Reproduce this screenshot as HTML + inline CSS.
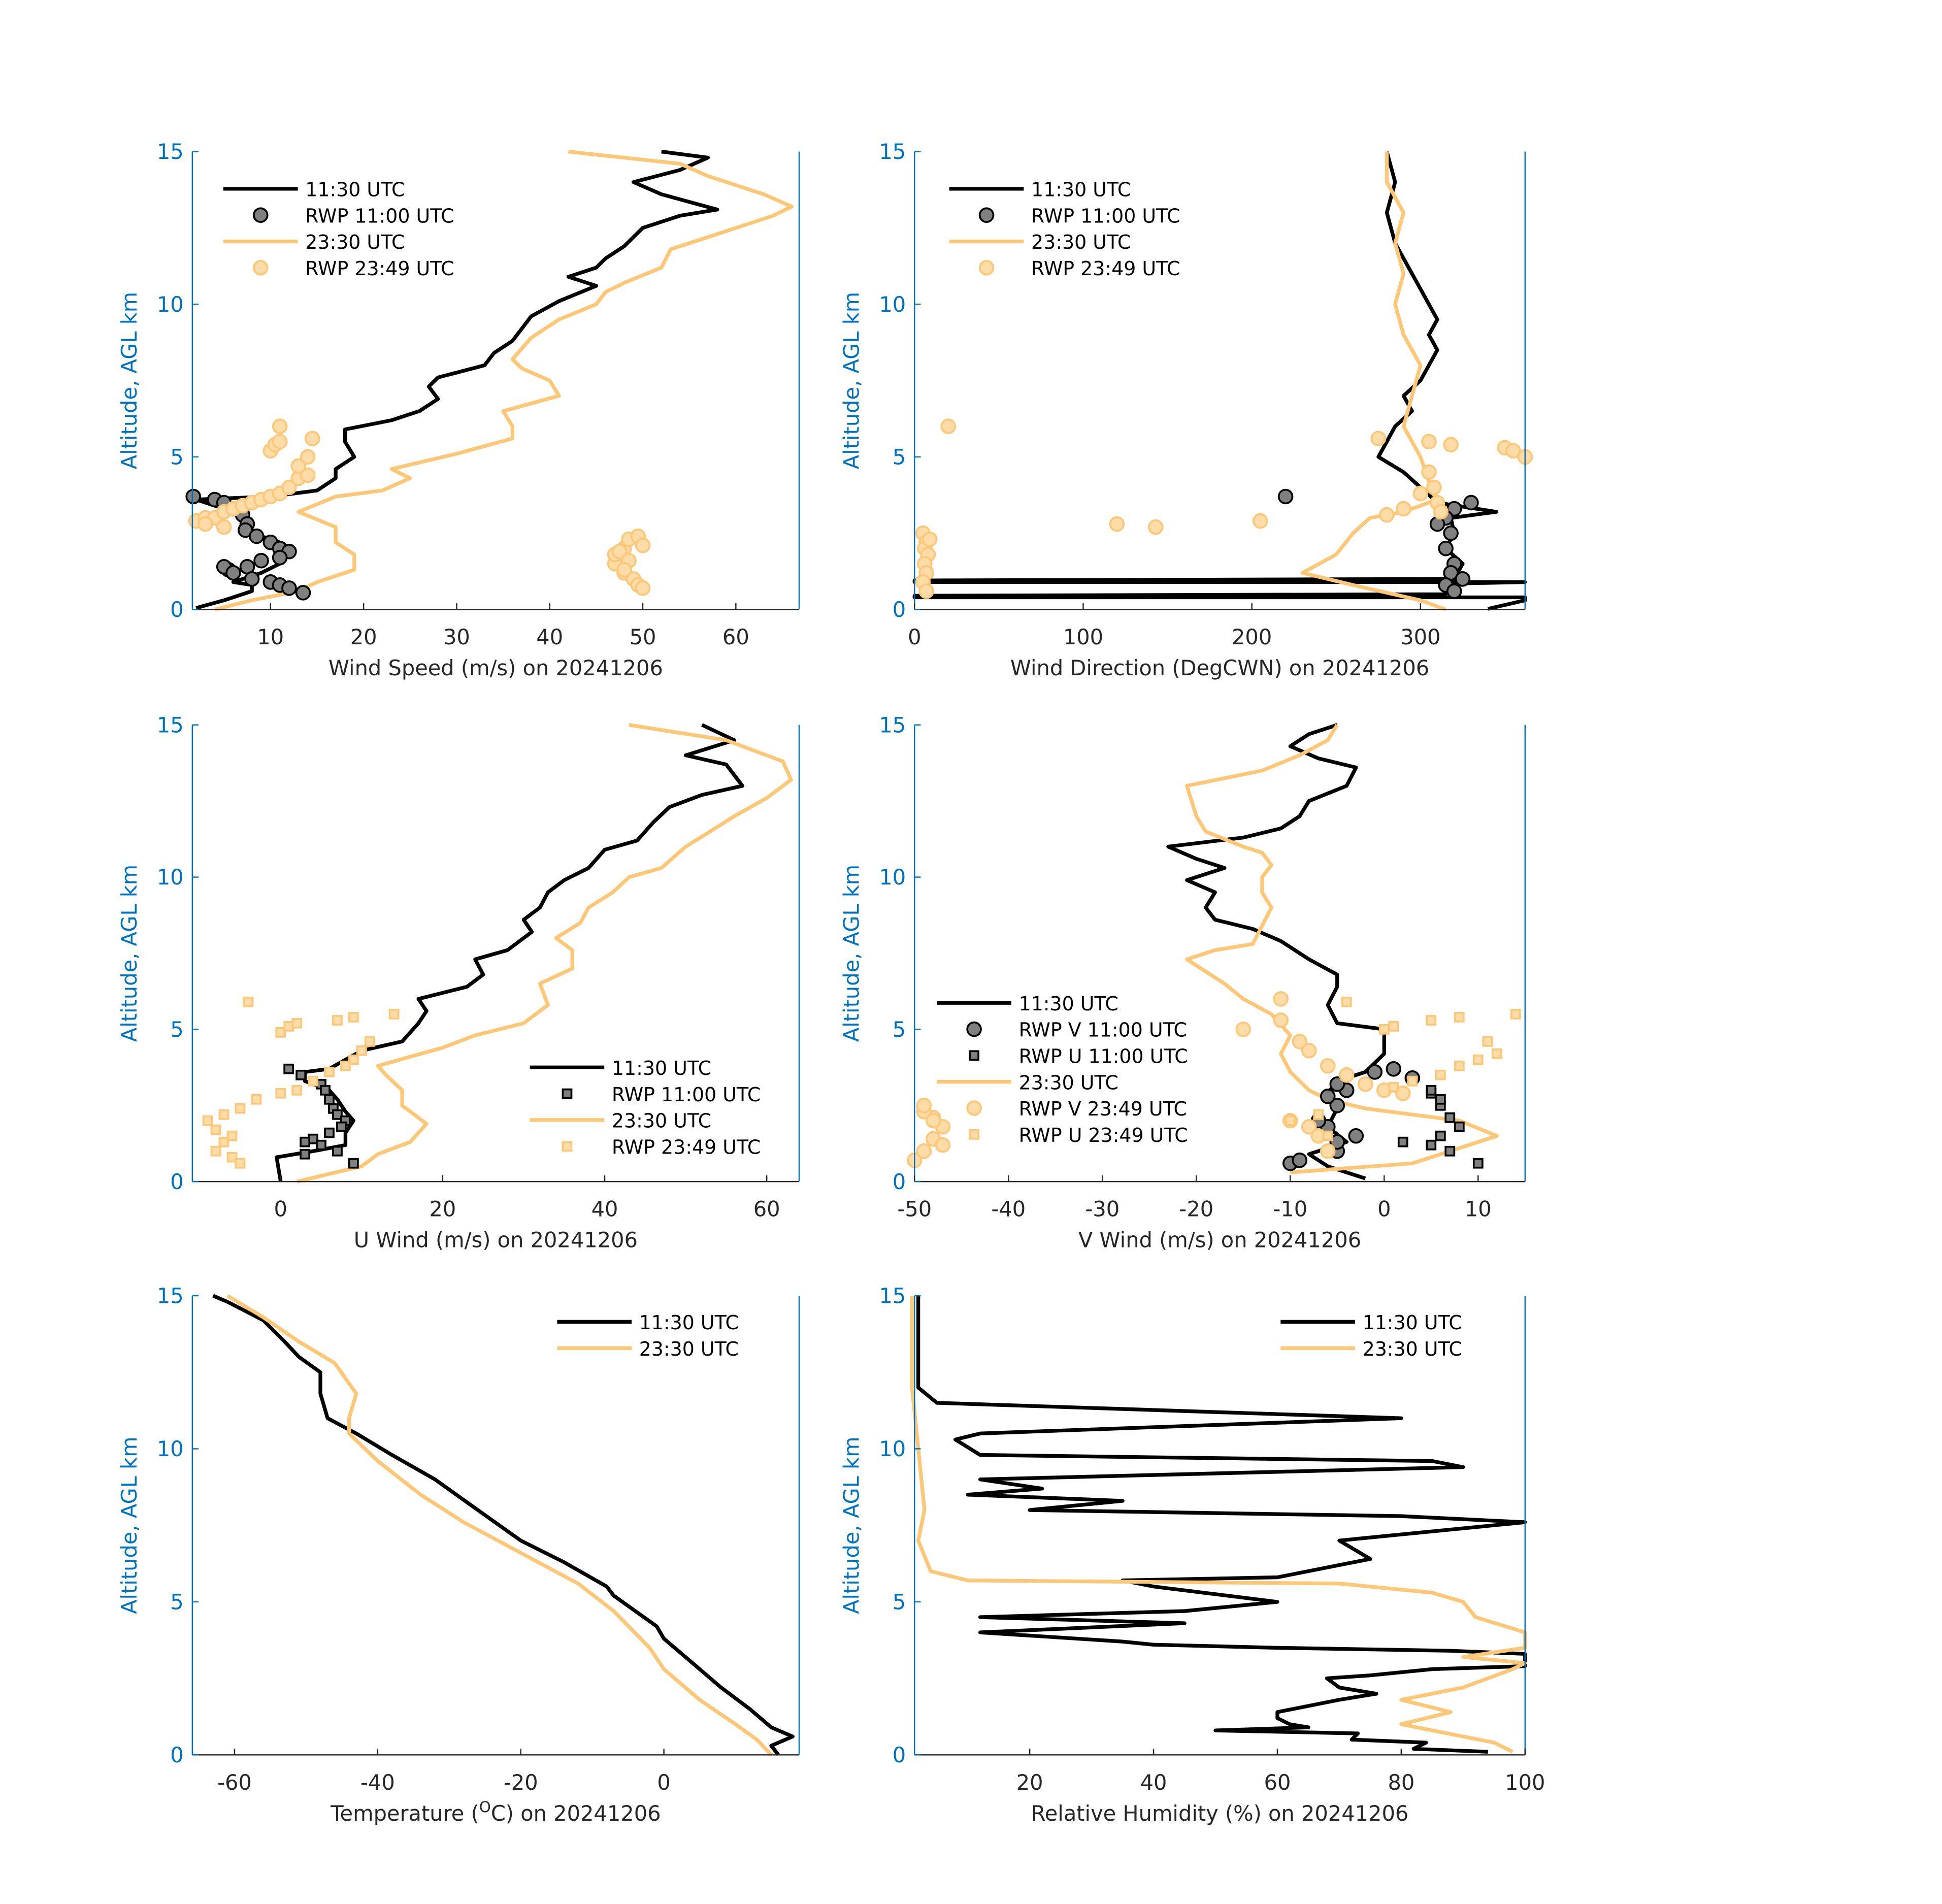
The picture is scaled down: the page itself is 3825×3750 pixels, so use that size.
<!DOCTYPE html>
<html><head><meta charset="utf-8"><style>html,body{margin:0;padding:0;background:#fff}svg{display:block}</style></head>
<body>
<svg id="fig" xmlns="http://www.w3.org/2000/svg" width="3825" height="3750" viewBox="0 0 1565 1534" font-family="'DejaVu Sans','Liberation Sans',sans-serif"></svg>
<script>
// ===== Data =====
const altWsB=[0.05,0.3,0.6,0.8,0.9,1.2,1.5,1.8,2.2,2.5,3.0,3.3,3.6,3.7,3.9,4.3,4.6,5.0,5.5,5.9,6.2,6.5,6.9,7.3,7.6,8.0,8.4,8.8,9.2,9.6,10.1,10.6,10.9,11.2,11.5,11.9,12.5,12.9,13.1,13.6,14.0,14.4,14.8,15];
const wsB=[2,5,8,8,6,9,11,12,11,8,7,5,2,10,15,17,17,19,18,18,23,26,28,27,28,33,34,36,37,38,41,45,42,45,46,48,50,54,58,52,49,54,57,52];
const altWsO=[0,0.3,0.6,0.9,1.3,1.8,2.2,2.7,3.2,3.7,3.9,4.3,4.6,5.1,5.6,6.0,6.5,7.0,7.5,7.9,8.2,8.9,9.5,10.0,10.4,10.7,11.2,11.8,12.2,12.9,13.2,13.6,14.2,14.6,15];
const wsO=[4,8,13,15,19,19,17,17,13,17,22,25,23,30,36,36,35,41,40,37,36,38,41,45,46,48,52,53,57,64,66,63,57,54,42];
const rwpWsB=[1.7,4,5,6,7,7.5,7.3,8.5,10,11,12,11,9,7.5,5.5,5,6,8,10,11,12,13.5];
const rwpWsBAlt=[3.7,3.6,3.5,3.3,3.1,2.8,2.6,2.4,2.2,2.0,1.9,1.7,1.6,1.4,1.3,1.4,1.2,1.0,0.9,0.8,0.7,0.55];
const rwpWsO=[2,3,4,5,6,7,8,9,10,11,12,13,14,13,14,14.5,10,10.5,11,11,3,5,47,47,48,48.5,49.5,50,48,49,49.5,50,47.5,48.5,48];
const rwpWsOAlt=[2.9,3.0,3.0,3.2,3.3,3.4,3.5,3.6,3.7,3.8,4.0,4.3,4.4,4.7,5.0,5.6,5.2,5.4,5.5,6.0,2.8,2.7,1.5,1.8,2.0,2.3,2.4,2.1,1.2,1.0,0.8,0.7,1.9,1.6,1.3];

const altWdB=[0.02,0.3,0.4,0.4,0.45,0.5,0.85,0.9,0.9,0.95,1.0,1.5,2.0,2.5,3.0,3.2,3.5,4.0,4.5,5.0,5.5,6.0,6.5,7.0,7.5,8.0,8.5,9,9.5,10,10.5,11,11.5,12,13,14,15];
const wdB=[340,362,362,0,0,315,320,362,0,0,320,325,315,320,318,345,310,300,290,275,280,285,295,290,300,305,310,305,310,305,300,295,290,285,280,285,280];
const altWdO=[0,0.3,0.8,1.2,1.8,2.5,3.0,3.2,3.6,4.2,5,6,7,8,9,10,11,12,13,14,15];
const wdO=[315,300,260,230,250,260,270,290,310,305,300,290,295,300,290,285,290,285,290,280,280];
const rwpWdB=[220,330,320,315,318,315,320,318,315,320,310,325];
const rwpWdBAlt=[3.7,3.5,3.3,3.0,2.5,2.0,1.5,1.2,0.8,0.6,2.8,1.0];
const rwpWdO=[20,275,305,318,350,355,362,305,308,300,290,280,205,120,143,310,5,7,6,8,6,7,5,7,9,312];
const rwpWdOAlt=[6.0,5.6,5.5,5.4,5.3,5.2,5.0,4.5,4.0,3.8,3.3,3.1,2.9,2.8,2.7,3.5,2.5,2.2,2.0,1.8,1.5,1.2,0.9,0.6,2.3,3.2];

const altUB=[0,0.8,1.0,1.2,1.6,2.0,2.3,2.7,3.0,3.3,3.6,3.7,4.3,4.6,5.2,5.6,6.0,6.4,6.8,7.3,7.6,8.2,8.6,9.0,9.5,9.9,10.3,10.9,11.2,11.8,12.3,12.7,13.0,13.7,14.0,14.5,15];
const uB=[0,-0.5,4,8,8,9,8,7,6,3,3,6,10,15,17,18,17,23,25,24,28,31,30,32,33,35,38,40,44,46,48,52,57,55,50,56,52];
const altUO=[0,0.5,0.9,1.3,1.9,2.5,3.0,3.5,3.8,4.1,4.4,4.8,5.2,5.8,6.5,7.0,7.6,8.0,8.5,9.0,9.5,10.0,10.3,11.0,11.5,12.0,12.6,13.2,13.8,14.5,15];
const uO=[2,10,12,16,18,15,15,13,12,16,20,24,30,33,32,36,36,34,37,38,41,43,47,50,53,56,60,63,62,55,43];
const rwpUB=[1,2.5,5,5.5,6,6.5,7,8,7.5,6,4,3,5,7,9,3];
const rwpUBAlt=[3.7,3.5,3.2,3.0,2.7,2.4,2.2,2.0,1.8,1.6,1.4,1.3,1.2,1.0,0.6,0.9];
const rwpUO=[-4,0,1,2,7,9,14,11,10,9,8,6,4,2,0,-3,-5,-7,-9,-8,-7,-8,-6,-5,-6];
const rwpUOAlt=[5.9,4.9,5.1,5.2,5.3,5.4,5.5,4.6,4.3,4.0,3.8,3.6,3.3,3.0,2.9,2.7,2.4,2.2,2.0,1.7,1.3,1.0,0.8,0.6,1.5];

const altVB=[0.1,0.5,0.9,1.3,1.8,2.4,2.9,3.3,3.6,4.2,5.0,5.2,5.8,6.4,6.8,7.3,7.9,8.3,8.6,9.0,9.5,9.9,10.3,10.6,11.0,11.3,11.6,12.0,12.5,13.0,13.6,13.9,14.3,14.7,15];
const vB=[-2,-6,-8,-4,-6,-5,-6,-5,-2,0,0,-5,-6,-5,-5,-8,-11,-14,-18,-19,-18,-21,-17,-20,-23,-15,-11,-9,-8,-4,-3,-7,-10,-8,-5];
const altVO=[0.3,0.6,1.2,1.5,2.0,2.4,2.7,3.0,3.6,4.2,4.8,5.5,6.0,6.5,6.9,7.3,7.6,7.8,8.4,9.0,9.5,10.0,10.4,10.8,11.0,11.5,12.0,13.0,13.5,14.0,14.5,15];
const vO=[-10,3,9,12,8,-2,-6,-8,-10,-11,-10,-12,-15,-17,-19,-21,-18,-14,-13,-12,-13,-13,-12,-13,-15,-19,-20,-21,-13,-9,-6,-5];
const rwpVB=[-10,-9,-5,-5,-3,-6,-7,-5,-6,-4,-5,-1,1,3];
const rwpVBAlt=[0.6,0.7,1.0,1.3,1.5,1.8,2.0,2.5,2.8,3.0,3.2,3.6,3.7,3.4];
const rwpVUB=[2,5,6,8,7,6,5,5,6,10,7];
const rwpVUBAlt=[1.3,1.2,1.5,1.8,2.1,2.5,2.9,3.0,2.7,0.6,1.0];
const rwpVO=[-50,-49,-48,-47,-48,-49,-48,-47,-49,-15,-11,-11,-9,-8,-6,-4,-2,0,2,-10,-8,-7,-6];
const rwpVOAlt=[0.7,1.0,1.4,1.8,2.1,2.3,2.0,1.2,2.5,5.0,6.0,5.3,4.6,4.3,3.8,3.5,3.2,3.0,2.9,2.0,1.8,1.5,1.0];
const rwpVUO=[-4,0,1,5,8,14,11,12,10,8,6,3,1,-10,-7,-6];
const rwpVUOAlt=[5.9,5.0,5.1,5.3,5.4,5.5,4.6,4.2,4.0,3.8,3.5,3.3,3.1,2.0,2.2,1.5];

const altTB=[0,0.3,0.6,0.9,1.5,2.2,3.0,3.8,4.2,5.2,5.5,6.3,7.0,8.0,9.0,9.8,10.5,11.0,11.8,12.5,13.0,13.5,14.2,14.8,15];
const tB=[16,15,18,15,12,8,4,0,-1,-7,-8,-14,-20,-26,-32,-38,-43,-47,-48,-48,-51,-53,-56,-61,-63];
const altTO=[0,0.5,1.0,1.8,2.8,3.5,4.7,5.6,6.6,7.6,8.5,9.6,10.5,11.0,11.8,12.8,13.5,14.3,15];
const tO=[15,13,10,5,0,-2,-7,-12,-20,-28,-34,-40,-44,-44,-43,-46,-51,-56,-61];

const altRhB=[0.1,0.2,0.4,0.5,0.7,0.8,0.9,1.0,1.2,1.4,1.8,2.0,2.2,2.5,2.6,2.8,2.9,3.3,3.4,3.5,3.6,3.7,4.0,4.3,4.5,4.7,5.0,5.5,5.7,5.8,6.4,7.0,7.3,7.6,7.8,8.0,8.3,8.5,8.7,9.0,9.4,9.6,9.8,10.3,10.5,11.0,11.5,12,15];
const rhB=[94,82,84,72,73,50,65,62,60,60,70,76,70,68,75,85,100,100,88,60,40,35,12,45,12,45,60,40,35,60,75,70,85,100,80,20,35,10,22,12,90,85,12,8,12,80,5,2,2];
const altRhO=[0.1,0.4,0.8,1.0,1.4,1.8,2.2,2.8,3.0,3.2,3.5,4.0,4.5,5.0,5.3,5.6,5.7,6.0,7,8,10,12,15];
const rhO=[98,95,85,80,88,80,90,98,100,90,100,100,92,90,85,70,10,4,2,3,2,1,1];

// ===== Drawing =====
const svg=document.getElementById('fig');
const NS='http://www.w3.org/2000/svg';
const BLUE='#0072BD', ORANGE='#FDC778', GREY='#808080';
function mk(tag,attrs,parent){const e=document.createElementNS(NS,tag);for(const k in attrs)e.setAttribute(k,attrs[k]);(parent||svg).appendChild(e);return e;}
function txt(s,x,y,attrs,parent){const t=mk('text',Object.assign({x:x,y:y},attrs),parent);t.textContent=s;return t;}

function panel(cfg){
  const g=mk('g',{});
  
  
  const L=cfg.x0,R=cfg.x1,T=cfg.y0,B=cfg.y1;
  const sx=v=>L+(v-cfg.xmin)/(cfg.xmax-cfg.xmin)*(R-L);
  const sy=v=>B-(v-0)/15*(B-T);
  // series
  cfg.lines.forEach(ln=>{
    const d=ln.v.map((v,i)=>(i?'L':'M')+sx(v).toFixed(1)+' '+sy(ln.a[i]).toFixed(1)).join(' ');
    const p=mk('path',{d:d,fill:'none',stroke:ln.c,'stroke-width':3,'stroke-linejoin':'round'},g);
    
    
  });
  cfg.pts.forEach(ps=>{
    ps.v.forEach((v,i)=>{
      const x=sx(v),y=sy(ps.a[i]);let m;
      if(ps.sq){m=mk('rect',{x:x-3.5,y:y-3.5,width:7,height:7,fill:ps.f,stroke:ps.s,'stroke-width':1.5},g);}
      else{m=mk('circle',{cx:x,cy:y,r:5.5,fill:ps.f,stroke:ps.s,'stroke-width':1.5},g);}
      
      
    });
  });
  // axes
  mk('line',{x1:L,y1:T,x2:L,y2:B,stroke:BLUE,'stroke-width':1},g);
  mk('line',{x1:R,y1:T,x2:R,y2:B,stroke:BLUE,'stroke-width':1},g);
  mk('line',{x1:L,y1:B,x2:R,y2:B,stroke:'#262626','stroke-width':1},g);
  [0,5,10,15].forEach(v=>{
    const y=sy(v);
    mk('line',{x1:L,y1:y,x2:L+5,y2:y,stroke:BLUE,'stroke-width':1},g);
    const t=txt(String(v),L-7,y+6,{'font-size':17,fill:BLUE,'text-anchor':'end'},g);
    
    
  });
  cfg.xt.forEach(v=>{
    const x=sx(v);
    mk('line',{x1:x,y1:B,x2:x,y2:B-5,stroke:'#262626','stroke-width':1},g);
    const t=txt(String(v),x,B+28,{'font-size':17,fill:'#262626','text-anchor':'middle'},g);
    
    
  });
  const yl=txt('Altitude, AGL km',0,0,{'font-size':17,fill:BLUE,'text-anchor':'middle',transform:`translate(${L-45},${(T+B)/2}) rotate(-90)`},g);
  
  
  const xl=txt('',(L+R)/2,B+53,{'font-size':17,fill:'#262626','text-anchor':'middle'},g);
  xl.innerHTML=cfg.xlabel;
  
  
  // legend
  cfg.leg.items.forEach((it,i)=>{
    const y=cfg.leg.y+i*21.2, lx=cfg.leg.x;
    const lg=mk('g',{},g);
    
    
    if(it.t==='l') mk('line',{x1:lx,y1:y,x2:lx+60,y2:y,stroke:it.c,'stroke-width':3},lg);
    else if(it.t==='c') mk('circle',{cx:lx+30,cy:y,r:5.5,fill:it.f,stroke:it.s,'stroke-width':1.5},lg);
    else mk('rect',{x:lx+26.5,y:y-3.5,width:7,height:7,fill:it.f,stroke:it.s,'stroke-width':1.5},lg);
    txt(it.label,lx+66,y+6,{'font-size':15.5,fill:'#000'},lg);
  });
}
const ptB={f:GREY,s:'#000'}, ptO={f:'#FEDCA8',s:ORANGE};
const L1={t:'l',c:'#000',label:'11:30 UTC'}, L2={t:'l',c:ORANGE,label:'23:30 UTC'};
panel({name:'wind-speed-panel',x0:155,x1:644,y0:122,y1:491,xmin:1.6,xmax:66.8,xt:[10,20,30,40,50,60],
  xlabel:'Wind Speed (m/s) on 20241206',
  lines:[{v:wsB,a:altWsB,c:'#000',n:'line-1130'},{v:wsO,a:altWsO,c:ORANGE,n:'line-2330'}],
  pts:[Object.assign({v:rwpWsB,a:rwpWsBAlt,n:'rwp-1100-point'},ptB),Object.assign({v:rwpWsO,a:rwpWsOAlt,n:'rwp-2349-point'},ptO)],
  leg:{x:180,y:152,items:[L1,Object.assign({t:'c',label:'RWP 11:00 UTC'},ptB),L2,Object.assign({t:'c',label:'RWP 23:49 UTC'},ptO)]}});
panel({name:'wind-direction-panel',x0:737,x1:1229,y0:122,y1:491,xmin:0,xmax:362,xt:[0,100,200,300],
  xlabel:'Wind Direction (DegCWN) on 20241206',
  lines:[{v:wdB,a:altWdB,c:'#000',n:'line-1130'},{v:wdO,a:altWdO,c:ORANGE,n:'line-2330'}],
  pts:[Object.assign({v:rwpWdB,a:rwpWdBAlt,n:'rwp-1100-point'},ptB),Object.assign({v:rwpWdO,a:rwpWdOAlt,n:'rwp-2349-point'},ptO)],
  leg:{x:765,y:152,items:[L1,Object.assign({t:'c',label:'RWP 11:00 UTC'},ptB),L2,Object.assign({t:'c',label:'RWP 23:49 UTC'},ptO)]}});
panel({name:'u-wind-panel',x0:155,x1:644,y0:584,y1:952,xmin:-10.9,xmax:64,xt:[0,20,40,60],
  xlabel:'U Wind (m/s) on 20241206',
  lines:[{v:uB,a:altUB,c:'#000',n:'line-1130'},{v:uO,a:altUO,c:ORANGE,n:'line-2330'}],
  pts:[Object.assign({v:rwpUB,a:rwpUBAlt,n:'rwp-u-1100-point',sq:1},ptB),Object.assign({v:rwpUO,a:rwpUOAlt,n:'rwp-u-2349-point',sq:1},ptO)],
  leg:{x:427,y:860,items:[L1,Object.assign({t:'s',label:'RWP 11:00 UTC'},ptB),L2,Object.assign({t:'s',label:'RWP 23:49 UTC'},ptO)]}});
panel({name:'v-wind-panel',x0:737,x1:1229,y0:584,y1:952,xmin:-50,xmax:15,xt:[-50,-40,-30,-20,-10,0,10],
  xlabel:'V Wind (m/s) on 20241206',
  lines:[{v:vB,a:altVB,c:'#000',n:'line-1130'},{v:vO,a:altVO,c:ORANGE,n:'line-2330'}],
  pts:[Object.assign({v:rwpVB,a:rwpVBAlt,n:'rwp-v-1100-point'},ptB),Object.assign({v:rwpVUB,a:rwpVUBAlt,n:'rwp-u-1100-point',sq:1},ptB),
       Object.assign({v:rwpVO,a:rwpVOAlt,n:'rwp-v-2349-point'},ptO),Object.assign({v:rwpVUO,a:rwpVUOAlt,n:'rwp-u-2349-point',sq:1},ptO)],
  leg:{x:755,y:808,items:[L1,Object.assign({t:'c',label:'RWP V 11:00 UTC'},ptB),Object.assign({t:'s',label:'RWP U 11:00 UTC'},ptB),L2,
       Object.assign({t:'c',label:'RWP V 23:49 UTC'},ptO),Object.assign({t:'s',label:'RWP U 23:49 UTC'},ptO)]}});
panel({name:'temperature-panel',x0:155,x1:644,y0:1044,y1:1414,xmin:-65.9,xmax:18.9,xt:[-60,-40,-20,0],
  xlabel:'Temperature (<tspan baseline-shift="super" font-size="12">O</tspan>C) on 20241206',
  lines:[{v:tB,a:altTB,c:'#000',n:'line-1130'},{v:tO,a:altTO,c:ORANGE,n:'line-2330'}],pts:[],
  leg:{x:449,y:1065,items:[L1,L2]}});
panel({name:'relative-humidity-panel',x0:737,x1:1229,y0:1044,y1:1414,xmin:1.4,xmax:100,xt:[20,40,60,80,100],
  xlabel:'Relative Humidity (%) on 20241206',
  lines:[{v:rhB,a:altRhB,c:'#000',n:'line-1130'},{v:rhO,a:altRhO,c:ORANGE,n:'line-2330'}],pts:[],
  leg:{x:1032,y:1065,items:[L1,L2]}});
</script>
</body></html>
